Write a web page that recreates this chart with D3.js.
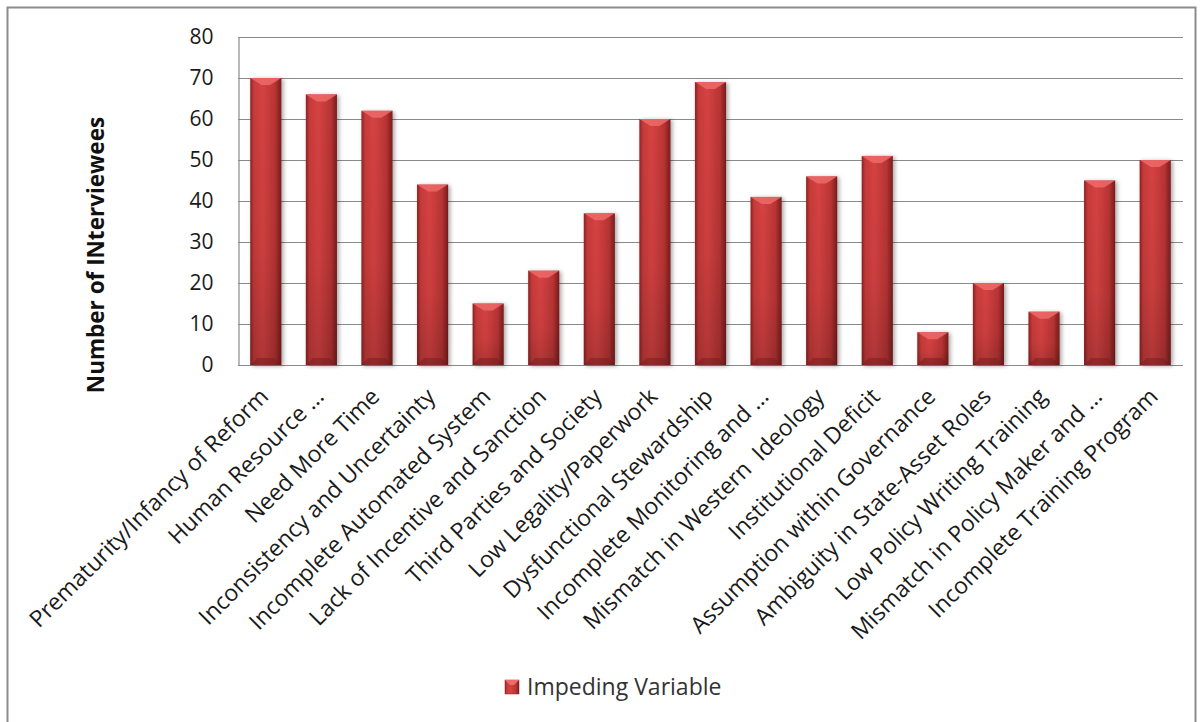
<!DOCTYPE html>
<html>
<head>
<meta charset="utf-8">
<script src="https://cdn.jsdelivr.net/npm/d3@7"></script>
<style>
  body { margin: 0; background: #fff; }
  svg { display: block; font-family: "Open Sans", Lato, sans-serif; }
</style>
</head>
<body>
<svg id="chart"></svg>
<script>
// categories and values
const categories = [
  "Prematurity/Infancy of Reform",
  "Human Resource ...",
  "Need More Time",
  "Inconsistency and Uncertainty",
  "Incomplete Automated System",
  "Lack of Incentive and Sanction",
  "Third Parties and Society",
  "Low Legality/Paperwork",
  "Dysfunctional Stewardship",
  "Incomplete Monitoring and ...",
  "Mismatch in Western  Ideology",
  "Institutional Deficit",
  "Assumption within Governance",
  "Ambiguity in State-Asset Roles",
  "Low Policy Writing Training",
  "Mismatch in Policy Maker and ...",
  "Incomplete Training Program"
];
const values = [70, 66, 62, 44, 15, 23, 37, 60, 69, 41, 46, 51, 8, 20, 13, 45, 50];
const yTicks = [0, 10, 20, 30, 40, 50, 60, 70, 80];
const seriesName = "Impeding Variable";
const yTitle = "Number of INterviewees";

const W = 1203, H = 722;
const margin = {left: 238, right: 20, top: 37, bottom: H - 365};

const svg = d3.select("#chart").attr("width", W).attr("height", H);

// outer frame
svg.append("rect")
  .attr("x", 7.5).attr("y", 7.5)
  .attr("width", W - 15).attr("height", H)
  .attr("fill", "none").attr("stroke", "#8c8c8c").attr("stroke-width", 2);

const x = d3.scaleBand()
  .domain(categories)
  .range([margin.left, W - margin.right])
  .paddingInner(0.44).paddingOuter(0.22);

const y = d3.scaleLinear()
  .domain([0, 80])
  .range([H - margin.bottom, margin.top]);

const defs = svg.append("defs");
const grad = defs.append("linearGradient").attr("id", "barGrad")
  .attr("x1", "0").attr("x2", "1").attr("y1", "0").attr("y2", "0");
grad.append("stop").attr("offset", "0").attr("stop-color", "#8e2222");
grad.append("stop").attr("offset", "0.12").attr("stop-color", "#c63a3a");
grad.append("stop").attr("offset", "0.4").attr("stop-color", "#d64242");
grad.append("stop").attr("offset", "0.8").attr("stop-color", "#b83434");
grad.append("stop").attr("offset", "1").attr("stop-color", "#7a1c1c");

const vgrad = defs.append("linearGradient").attr("id", "shadeGrad")
  .attr("x1", "0").attr("x2", "0").attr("y1", "0").attr("y2", "1");
vgrad.append("stop").attr("offset", "0").attr("stop-color", "#000").attr("stop-opacity", 0);
vgrad.append("stop").attr("offset", "0.6").attr("stop-color", "#000").attr("stop-opacity", 0.05);
vgrad.append("stop").attr("offset", "1").attr("stop-color", "#000").attr("stop-opacity", 0.18);

const shadow = defs.append("filter").attr("id", "shadow")
  .attr("x", "-20%").attr("y", "-10%").attr("width", "150%").attr("height", "130%");
shadow.append("feDropShadow").attr("dx", 2).attr("dy", 1).attr("stdDeviation", 2)
  .attr("flood-color", "#000").attr("flood-opacity", 0.35);

// grid lines
svg.append("g")
  .selectAll("line")
  .data(yTicks)
  .join("line")
  .attr("x1", margin.left).attr("x2", W - margin.right)
  .attr("y1", d => Math.round(y(d)) + 0.5).attr("y2", d => Math.round(y(d)) + 0.5)
  .attr("stroke", "#8a8a8a").attr("stroke-width", 1.2);

// y axis
const yAxis = svg.append("g")
  .attr("transform", `translate(${margin.left + 0.5},0)`)
  .call(d3.axisLeft(y).tickValues(yTicks).tickSize(0).tickPadding(25));
yAxis.select(".domain").attr("stroke", "#8a8a8a").attr("stroke-width", 1.2);
yAxis.selectAll("text").attr("font-size", 21).attr("fill", "#1a1a1a")
  .attr("font-family", "'Open Sans', sans-serif");

// bars
const bars = svg.append("g").selectAll("g.bar")
  .data(values.map((v, i) => ({cat: categories[i], v})))
  .join("g").attr("class", "bar");

bars.append("rect")
  .attr("x", d => x(d.cat))
  .attr("y", d => y(d.v))
  .attr("width", x.bandwidth())
  .attr("height", d => y(0) - y(d.v))
  .attr("fill", "url(#barGrad)")
  .attr("filter", "url(#shadow)");

bars.append("rect")
  .attr("x", d => x(d.cat))
  .attr("y", d => y(d.v))
  .attr("width", x.bandwidth())
  .attr("height", d => y(0) - y(d.v))
  .attr("fill", "url(#shadeGrad)");

// top bevel
const bev = 7;
bars.append("path")
  .attr("d", d => {
    const x0 = x(d.cat), x1 = x0 + x.bandwidth(), t = y(d.v);
    return `M${x0},${t}L${x1},${t}L${x1 - bev * 1.6},${t + bev}L${x0 + bev * 1.6},${t + bev}Z`;
  })
  .attr("fill", "#ef6a6a").attr("opacity", 0.85);

// bottom bevel
bars.append("path")
  .attr("d", d => {
    const x0 = x(d.cat), x1 = x0 + x.bandwidth(), b = y(0);
    return `M${x0},${b}L${x1},${b}L${x1 - bev},${b - bev}L${x0 + bev},${b - bev}Z`;
  })
  .attr("fill", "#6e1a1a").attr("opacity", 0.45);

// category labels
svg.append("g").selectAll("text")
  .data(categories)
  .join("text")
  .attr("transform", d => `translate(${x(d) + x.bandwidth() / 2 + 4},${y(0) + 33}) rotate(-45)`)
  .attr("text-anchor", "end")
  .attr("font-size", 23)
  .attr("fill", "#1a1a1a")
  .style("white-space", "pre")
  .text(d => d);

// y axis title
svg.append("text")
  .attr("transform", `translate(104,${(y(0) + y(80)) / 2 + 54}) rotate(-90)`)
  .attr("text-anchor", "middle")
  .attr("font-size", 22.5).attr("font-weight", "bold")
  .attr("fill", "#111")
  .text(yTitle);

// legend
const lg = svg.append("g").attr("transform", "translate(505,680)");
lg.append("rect").attr("width", 14).attr("height", 14)
  .attr("fill", "url(#barGrad)").attr("stroke", "#8e2222").attr("stroke-width", 0.5);
lg.append("path").attr("d", "M0,0L14,0L9,5L5,5Z").attr("fill", "#ef6a6a");
lg.append("text").attr("x", 22).attr("y", 15)
  .attr("font-size", 23).attr("fill", "#333")
  .text(seriesName);
</script>
</body>
</html>
